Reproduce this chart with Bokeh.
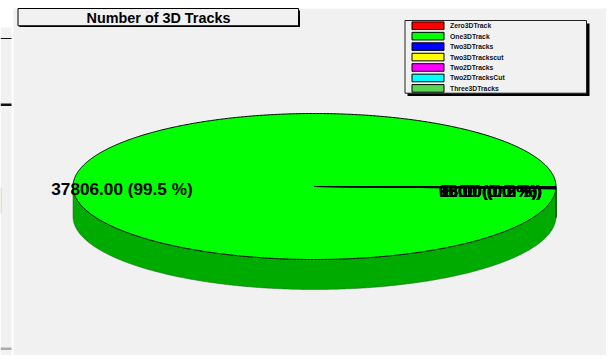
import numpy as np
from bokeh.plotting import figure
from bokeh.models import Range1d
from bokeh.core.properties import value
from bokeh.embed import file_html
from bokeh.resources import INLINE

categories = ["Zero3DTrack", "One3DTrack", "Two3DTracks", "Two3DTrackscut",
              "Two2DTracks", "Two2DTracksCut", "Three3DTracks"]
counts = [0, 37806, 96, 63, 8, 5, 18]
colors = ["#ff0000", "#00ff00", "#0000ff", "#ffff00", "#ff00ff", "#00ffff", "#59d454"]
walls = ["#b00000", "#00ab00", "#0000b0", "#b0b000", "#b000b0", "#00b0b0", "#3e943a"]
title = "Number of 3D Tracks"

W, H = 606, 355
PANEL = "#f1f1f1"
FONT = value("Liberation Sans")
cx, cy, rx, ry, depth = 314, 186, 241.5, 73, 30

p = figure(width=W, height=H, x_range=Range1d(0, W), y_range=Range1d(H, 0),
           output_backend="svg", toolbar_location=None, min_border=0,
           outline_line_color=None, background_fill_color="white",
           border_fill_color="white")
p.axis.visible = False
p.grid.visible = False

# page background
p.quad(left=[13], right=[W], top=[8], bottom=[H], fill_color=PANEL, line_color=None)
p.quad(left=[0], right=[11], top=[27], bottom=[H], fill_color=PANEL, line_color=None)
p.quad(left=[0], right=[11], top=[37.5], bottom=[38.5], fill_color="#111111", line_color=None)
p.quad(left=[0], right=[11], top=[103], bottom=[105.5], fill_color="#111111", line_color=None)
p.quad(left=[0], right=[1], top=[187], bottom=[213], fill_color="#cfcfb0", line_color=None)
p.quad(left=[0], right=[11], top=[347], bottom=[349.5], fill_color="#aaaaaa", line_color=None)


def arc(a0, a1, dy=0.0):
    t = np.radians(np.linspace(a0, a1, max(int(abs(a1 - a0) * 3), 2)))
    return cx + rx * np.cos(t), cy - ry * np.sin(t) + dy


# slices, counter-clockwise from three o'clock
total = sum(counts)
edges = np.concatenate([[0.0], np.cumsum(counts) / total * 360.0])

for i in range(len(counts)):
    a0, a1 = max(edges[i], 180.0), max(edges[i + 1], 180.0)
    if a1 > a0:
        xa, ya = arc(a0, a1)
        xb, yb = arc(a1, a0, depth)
        p.patch(np.r_[xa, xb], np.r_[ya, yb], fill_color=walls[i],
                line_color="#1c5c1c", line_width=0.5)

for i in range(len(counts)):
    xa, ya = arc(edges[i], edges[i + 1])
    p.patch(np.r_[cx, xa, cx], np.r_[cy, ya, cy], fill_color=colors[i],
            line_color="black", line_width=1)

# slice labels
main = int(np.argmax(counts))
for i, c in enumerate(counts):
    txt = f"{c:.2f} ({c / total * 100:.1f} %)"
    lx = 121.5 if i == main else 490
    p.text([lx], [188.5 if i == main else 190], text=[txt], text_font=FONT, text_font_size="17.2px",
           text_font_style="bold", text_align="center", text_baseline="middle",
           text_color="black")

# title box
p.quad(left=[19], right=[299.5], top=[10], bottom=[26.5], fill_color="black", line_color=None)
p.quad(left=[17.5], right=[298], top=[8], bottom=[25.3], fill_color=PANEL,
       line_color="black", line_width=1)
p.text([158], [17], text=[title], text_font=FONT, text_font_size="14.4px", text_font_style="bold",
       text_align="center", text_baseline="middle", text_color="black")

# legend
p.quad(left=[407], right=[589], top=[23], bottom=[95.5], fill_color="black", line_color=None)
p.quad(left=[404.5], right=[586], top=[20], bottom=[92.7], fill_color=PANEL,
       line_color="#222222", line_width=1)
for i, name in enumerate(categories):
    y = 25.2 + i * 10.45
    p.quad(left=[411.5], right=[443.5], top=[y - 3.8], bottom=[y + 3.8], fill_color=colors[i],
           line_color="black", line_width=1)
    p.text([449.5], [y], text=[name], text_font=FONT, text_font_size="6.8px",
           text_font_style="bold", text_align="left", text_baseline="middle", text_color="#111111")

open("out.html", "w").write(file_html(p, INLINE))
